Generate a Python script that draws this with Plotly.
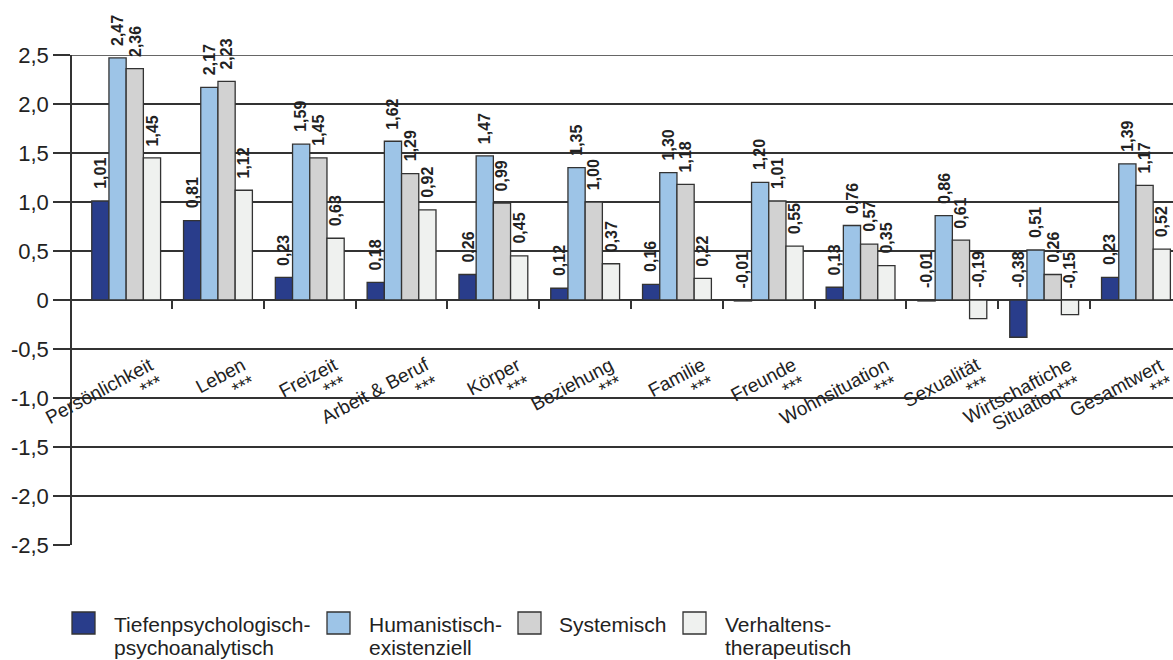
import math
import plotly.graph_objects as go

# Life-domain categories (x axis); each label has a name line and a significance line
categories = [
    "Persönlichkeit", "Leben", "Freizeit", "Arbeit & Beruf", "Körper", "Beziehung",
    "Familie", "Freunde", "Wohnsituation", "Sexualität", "Wirtschaftiche", "Gesamtwert",
]
significance = ["***"] * 10 + ["Situation***", "***"]

# Mean change scores per therapy orientation
tiefen = [1.01, 0.81, 0.23, 0.18, 0.26, 0.12, 0.16, -0.01, 0.13, -0.01, -0.38, 0.23]
humanist = [2.47, 2.17, 1.59, 1.62, 1.47, 1.35, 1.30, 1.20, 0.76, 0.86, 0.51, 1.39]
systemisch = [2.36, 2.23, 1.45, 1.29, 0.99, 1.00, 1.18, 1.01, 0.57, 0.61, 0.26, 1.17]
verhalten = [1.45, 1.12, 0.63, 0.92, 0.45, 0.37, 0.22, 0.55, 0.35, -0.19, -0.15, 0.52]

series_names = [
    ["Tiefenpsychologisch-", "psychoanalytisch"],
    ["Humanistisch-", "existenziell"],
    ["Systemisch"],
    ["Verhaltens-", "therapeutisch"],
]
series_values = [tiefen, humanist, systemisch, verhalten]
colors = ["#293d8b", "#9dc4e7", "#d2d2d2", "#eff1ef"]

y_ticks = [2.5, 2.0, 1.5, 1.0, 0.5, 0.0, -0.5, -1.0, -1.5, -2.0, -2.5]
y_ticktext = ["2,5", "2,0", "1,5", "1,0", "0,5", "0", "-0,5", "-1,0", "-1,5", "-2,0", "-2,5"]

FONT = "Liberation Sans, Arial, sans-serif"
INK = "#222222"
LINE = "#333333"

W, H = 1173, 660
ML, MR, MT, MB = 72, 0, 55, 115
plot_w = W - ML - MR
plot_h = H - MT - MB
px_per_cat = 91.8

n_series = len(series_values)
bargap = 0.25
bar_w = (1 - bargap) / n_series
xpos = list(range(len(categories)))

LABEL_ANGLE = 28
LINE_STEP = 19  # px between the two lines of a category label


def fmt(v):
    return f"{v:.2f}".replace(".", ",")


def paper_x(px):
    return (px - ML) / plot_w


def paper_y(py):
    return (H - MB - py) / plot_h


fig = go.Figure()
for name, vals, col in zip(series_names, series_values, colors):
    fig.add_trace(go.Bar(
        x=xpos, y=vals, name=" ".join(name),
        marker=dict(color=col, line=dict(color=LINE, width=1.3)),
        showlegend=False,
    ))

annotations = []
# value labels above each bar (above the baseline for negative values)
for k, vals in enumerate(series_values):
    for i, v in enumerate(vals):
        annotations.append(dict(
            x=i + (k - (n_series - 1) / 2) * bar_w, y=max(v, 0), xref="x", yref="y",
            text=f"<b>{fmt(v)}</b>", textangle=-90, showarrow=False,
            xanchor="center", yanchor="bottom", yshift=10,
            font=dict(family=FONT, size=16, color=INK),
        ))

# rotated category labels, right-aligned, two lines
step_x = LINE_STEP * math.sin(math.radians(LABEL_ANGLE))
step_y = LINE_STEP * math.cos(math.radians(LABEL_ANGLE))
for i, (c, s) in enumerate(zip(categories, significance)):
    for j, txt in enumerate([c, s]):
        annotations.append(dict(
            x=i, y=-0.52, xref="x", yref="y", text=txt, textangle=-LABEL_ANGLE,
            showarrow=False, xanchor="right", yanchor="top",
            xshift=34 + j * step_x, yshift=-j * step_y,
            font=dict(family=FONT, size=19, color=INK),
        ))

# legend
shapes = []
legend_sq = [72, 327, 518, 683]
legend_tx = [112, 367, 557, 723]
for sq, tx, name, col in zip(legend_sq, legend_tx, series_names, colors):
    shapes.append(dict(
        type="rect", xref="paper", yref="paper",
        x0=paper_x(sq), x1=paper_x(sq + 23), y0=paper_y(612), y1=paper_y(634),
        fillcolor=col, line=dict(color=LINE, width=1.3),
    ))
    for j, line in enumerate(name):
        annotations.append(dict(
            x=paper_x(tx), y=paper_y(624.5 + 23 * j), xref="paper", yref="paper",
            text=line, showarrow=False, xanchor="left", yanchor="middle",
            font=dict(family=FONT, size=21, color=INK),
        ))

# top gridline at the upper range limit (plotly drops edge gridlines)
shapes.append(dict(
    type="line", xref="paper", yref="y", x0=0, x1=1, y0=y_ticks[0], y1=y_ticks[0],
    line=dict(color=LINE, width=1.5), layer="below",
))

fig.update_layout(
    width=W, height=H,
    margin=dict(l=ML, r=MR, t=MT, b=MB, pad=0),
    paper_bgcolor="white", plot_bgcolor="white",
    barmode="group", bargap=bargap, bargroupgap=0,
    font=dict(family=FONT, color=INK),
    annotations=annotations, shapes=shapes,
    showlegend=False,
)
fig.update_xaxes(
    range=[-0.59, -0.59 + plot_w / px_per_cat],
    anchor="free", position=0.5,
    tickmode="array", tickvals=[i + 0.5 for i in xpos[:-1]],
    ticks="outside", ticklen=8, tickwidth=1.5, tickcolor=LINE,
    showticklabels=False, showgrid=False, zeroline=False, showline=False,
)
fig.update_yaxes(
    range=[-2.5, 2.5], domain=[0, 1],
    tickmode="array", tickvals=y_ticks, ticktext=y_ticktext,
    ticks="outside", ticklen=17, tickwidth=1.5, tickcolor=LINE,
    tickfont=dict(family=FONT, size=22, color=INK),
    showgrid=True, gridcolor=LINE, gridwidth=1.5,
    zeroline=True, zerolinecolor=LINE, zerolinewidth=1.5,
    showline=True, linecolor=LINE, linewidth=1.5,
)

fig.write_html("out.html")
